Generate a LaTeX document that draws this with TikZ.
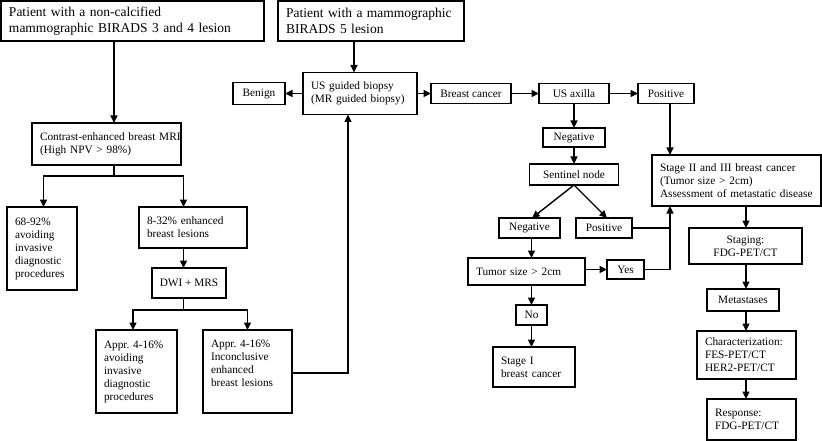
\documentclass[tikz,border=0pt]{standalone}
\usepackage{fontspec}
\setmainfont{Liberation Serif}
\usetikzlibrary{arrows.meta}
\frenchspacing

\begin{document}
\begin{tikzpicture}[x=1pt,y=-1pt,
    box/.style={draw,line width=1.2pt,inner sep=0pt,outer sep=0pt,align=center,
      font=\fontsize{11.3}{13}\selectfont},
    lbox/.style={box,align=left,inner xsep=8pt},
    big/.style={lbox,font=\fontsize{13.5}{16}\selectfont},
    arr/.style={line width=1.4pt,-{Triangle[length=7.5pt,width=7pt]}},
    line/.style={line width=1.4pt}]
  \useasboundingbox (0,0) rectangle (822,441);

  \node[big,text width=247pt,minimum height=40pt] (A) at (132.5,21)
    {Patient with a non-calcified\\mammographic BIRADS 3 and 4 lesion};
  \node[big,text width=170pt,minimum height=40pt] (B) at (371,21)
    {Patient with a mammographic\\BIRADS 5 lesion};

  \node[lbox,text width=133pt,minimum height=42pt] (mri) at (106.5,144)
    {\mbox{Contrast-enhanced breast MRI}\\(High NPV > 98\%)};
  \node[lbox,text width=54pt,minimum height=83pt] (avoid1) at (42,248.5)
    {68-92\%\\avoiding\\invasive\\diagnostic\\procedures};
  \node[lbox,text width=92pt,minimum height=41pt] (enh) at (193,227.5)
    {8-32\% enhanced\\breast lesions};
  \node[box,minimum width=74pt,minimum height=30pt] (dwi) at (189,283) {DWI + MRS};
  \node[lbox,text width=65pt,minimum height=83pt] (avoid2) at (136.5,371.5)
    {Appr. 4-16\%\\avoiding\\invasive\\diagnostic\\procedures};
  \node[lbox,text width=73pt,minimum height=83pt] (incon) at (247.5,371.5)
    {Appr. 4-16\%\\Inconclusive\\enhanced\\breast lesions\\\strut};

  \node[lbox,text width=98pt,minimum height=42pt] (usb) at (360,93.5)
    {US guided biopsy\\(MR guided biopsy)};
  \node[box,minimum width=52pt,minimum height=22pt] (benign) at (259,93.5) {Benign};
  \node[box,minimum width=80pt,minimum height=20pt] (bc) at (471,93.5) {Breast cancer};
  \node[box,minimum width=70pt,minimum height=20pt] (usax) at (574,93.5) {US axilla};
  \node[box,minimum width=56pt,minimum height=20pt] (pos1) at (666,93.5) {Positive};
  \node[box,minimum width=62pt,minimum height=19pt] (neg1) at (574,137.5) {Negative};
  \node[box,minimum width=89pt,minimum height=21pt] (sent) at (574,174.5) {Sentinel node};
  \node[box,minimum width=61pt,minimum height=20pt] (neg2) at (529.5,228) {Negative};
  \node[box,minimum width=56pt,minimum height=20pt] (pos2) at (604,228) {Positive};
  \node[lbox,text width=101pt,minimum height=27pt] (tumor) at (526.5,271.5)
    {Tumor size > 2cm};
  \node[box,minimum width=37pt,minimum height=19pt] (yes) at (625.5,269.5) {Yes};
  \node[box,minimum width=31pt,minimum height=20pt] (no) at (531.5,315) {No};
  \node[lbox,text width=66pt,minimum height=40pt] (stage1) at (534,367)
    {Stage I\\breast cancer};

  \node[lbox,text width=153pt,minimum height=51pt] (stage2) at (736.5,180.5)
    {Stage II and III breast cancer\\(Tumor size > 2cm)\\Assessment of metastatic disease};
  \node[box,minimum width=113pt,minimum height=36pt] (staging) at (745.5,246)
    {Staging:\\FDG-PET/CT};
  \node[box,minimum width=72pt,minimum height=22pt] (meta) at (743,300) {Metastases};
  \node[lbox,text width=83pt,minimum height=48pt] (char) at (746.5,355)
    {Characterization:\\FES-PET/CT\\HER2-PET/CT};
  \node[lbox,text width=73pt,minimum height=41pt] (resp) at (751.5,419.5)
    {Response:\\FDG-PET/CT};

  \coordinate (colA) at (114,0);
  \coordinate (fork1) at (114,176);
  \coordinate (colE) at (183.5,0);
  \coordinate (fork2) at (183.5,310);
  \coordinate (back) at (348,373);
  \coordinate (colB) at (354,0);
  \coordinate (colP) at (670,0);
  \coordinate (colT) at (531.5,0);
  \coordinate (colS) at (746,0);

  \draw[arr] (A.south -| colA) -- (mri.north -| colA);
  \draw[line] (mri.south -| fork1) -- (fork1);
  \draw[arr] (fork1) -| ([xshift=1.5pt]avoid1.north);
  \draw[arr] (fork1) -| (enh.north -| colE);
  \draw[arr] (enh.south -| colE) -- (dwi.north -| colE);
  \draw[line] (dwi.south -| colE) -- (fork2);
  \draw[arr] (fork2) -| ([xshift=-3.5pt]avoid2.north);
  \draw[arr] (fork2) -| (incon.north);
  \draw[arr] (incon.east |- back) -| (usb.south -| back);

  \draw[arr] (B.south -| colB) -- (usb.north -| colB);
  \foreach \a/\b in {usb/benign, usb/bc, bc/usax, usax/pos1, usax/neg1, neg1/sent}
    \draw[arr] (\a) -- (\b);
  \draw[arr] (sent.south) -- ([xshift=2.5pt]neg2.north);
  \draw[arr] (sent.south) -- ([xshift=3pt]pos2.north);
  \draw[arr] (pos1.south -| colP) -- (stage2.north -| colP);
  \draw[line] (pos2.east) -- (pos2.east -| colP);
  \draw[arr] (yes.east) -| (stage2.south -| colP);
  \draw[arr] (tumor.east |- yes) -- (yes.west);
  \foreach \a/\b in {neg2/tumor, tumor/no, no/stage1}
    \draw[arr] (\a.south -| colT) -- (\b.north -| colT);
  \foreach \a/\b in {stage2/staging, staging/meta, meta/char, char/resp}
    \draw[arr] (\a.south -| colS) -- (\b.north -| colS);
\end{tikzpicture}
\end{document}
